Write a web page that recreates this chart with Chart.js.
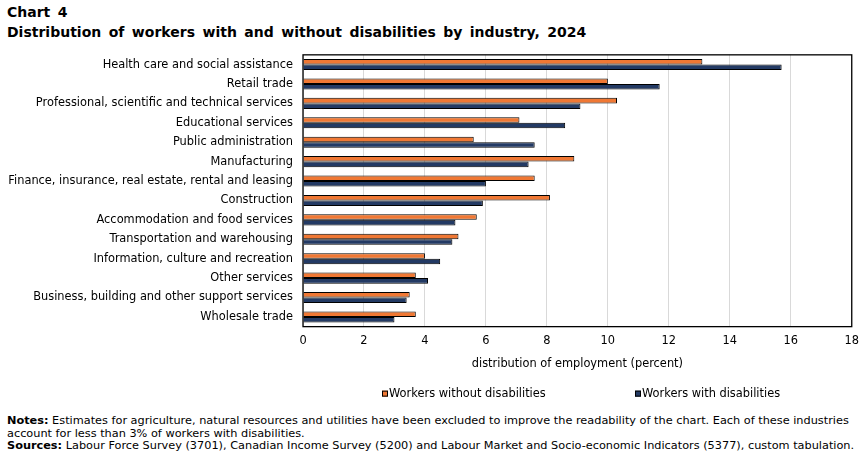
<!DOCTYPE html>
<html>
<head>
<meta charset="utf-8">
<script src="https://cdn.jsdelivr.net/npm/chart.js@4.4.1/dist/chart.umd.min.js"></script>
<style>
  body { margin: 0; background: #fff; font-family: "DejaVu Sans", Verdana, sans-serif; color: #000; }
  #page { position: relative; width: 867px; height: 455px; overflow: hidden; }
  #title { position: absolute; left: 7px; top: 2px; font-weight: bold; font-size: 14px; line-height: 20px; word-spacing: 2.6px; }
  #wrap { position: absolute; left: 0; top: 38px; width: 867px; height: 372px; }
  #notes { position: absolute; left: 7px; top: 415px; width: 858px; font-size: 11.3px; line-height: 12.6px; }
</style>
</head>
<body>
<div id="page">
  <div id="title">Chart 4<br>Distribution of workers with and without disabilities by industry, 2024</div>
  <div id="wrap"><canvas id="chart"></canvas></div>
  <div id="notes">
    <b>Notes:</b> Estimates for agriculture, natural resources and utilities have been excluded to improve the readability of the chart. Each of these industries account for less than 3% of workers with disabilities.<br>
    <b>Sources:</b> Labour Force Survey (3701), Canadian Income Survey (5200) and Labour Market and Socio-economic Indicators (5377), custom tabulation.
  </div>
</div>
<script>
// Industries, from top to bottom
const industries = [
    'Health care and social assistance',
    'Retail trade',
    'Professional, scientific and technical services',
    'Educational services',
    'Public administration',
    'Manufacturing',
    'Finance, insurance, real estate, rental and leasing',
    'Construction',
    'Accommodation and food services',
    'Transportation and warehousing',
    'Information, culture and recreation',
    'Other services',
    'Business, building and other support services',
    'Wholesale trade'
];

// Share of employment (percent)
const withoutDisabilities = [13.1, 10.0, 10.3, 7.1, 5.6, 8.9, 7.6, 8.1, 5.7, 5.1, 4.0, 3.7, 3.5, 3.7];
const withDisabilities = [15.7, 11.7, 9.1, 8.6, 7.6, 7.4, 6.0, 5.9, 5.0, 4.9, 4.5, 4.1, 3.4, 3.0];

const xTicks = [0, 2, 4, 6, 8, 10, 12, 14, 16, 18];

const FONT = '"DejaVu Sans", Verdana, sans-serif';
const SIZE = 11.4;

// black frame around the plot area
const frame = {
    id: 'frame',
    afterDatasetsDraw(chart) {
        const a = chart.chartArea;
        const c = chart.ctx;
        c.save();
        c.strokeStyle = '#000';
        c.lineWidth = 1.3;
        c.strokeRect(a.left, a.top, a.right - a.left, a.bottom - a.top);
        c.restore();
    }
};

// legend row under the axis title, items spread wide like the original
const wideLegend = {
    id: 'wideLegend',
    afterDraw(chart) {
        const c = chart.ctx;
        const a = chart.chartArea;
        const y = a.bottom + 67;
        const starts = [a.left + 79, a.left + 332];
        c.save();
        c.font = SIZE + 'px ' + FONT;
        c.textBaseline = 'middle';
        chart.data.datasets.forEach((ds, i) => {
            const x = starts[i];
            c.fillStyle = ds.backgroundColor;
            c.fillRect(x, y - 3, 6, 6);
            c.strokeStyle = '#000';
            c.lineWidth = 1;
            c.strokeRect(x + 0.5, y - 2.5, 5, 5);
            c.fillStyle = '#000';
            c.fillText(ds.label, x + 7, y);
        });
        c.restore();
    }
};

new Chart(document.getElementById('chart'), {
    type: 'bar',
    data: {
        labels: industries,
        datasets: [
            {
                label: 'Workers without disabilities',
                data: withoutDisabilities,
                backgroundColor: '#F07834',
                borderColor: '#000',
                borderWidth: 1
            },
            {
                label: 'Workers with disabilities',
                data: withDisabilities,
                backgroundColor: '#233A64',
                borderColor: '#000',
                borderWidth: 1
            }
        ]
    },
    options: {
        indexAxis: 'y',
        responsive: true,
        maintainAspectRatio: false,
        animation: false,
        categoryPercentage: 0.57,
        barPercentage: 1.0,
        layout: { padding: { left: 8, right: 10, top: 3, bottom: 39 } },
        scales: {
            x: {
                min: 0,
                max: 18,
                afterBuildTicks(axis) { axis.ticks = xTicks.map(v => ({ value: v })); },
                grid: { color: '#d9d9d9', lineWidth: 1, drawTicks: false },
                border: { display: false },
                ticks: { color: '#000', font: { family: FONT, size: SIZE }, padding: 8 },
                title: {
                    display: true,
                    text: 'distribution of employment (percent)',
                    color: '#000',
                    font: { family: FONT, size: SIZE },
                    padding: { top: 1, bottom: 0 }
                }
            },
            y: {
                afterFit(axis) { axis.width = 295; },
                grid: { display: false, drawTicks: false },
                border: { display: false },
                ticks: { color: '#000', font: { family: FONT, size: SIZE }, padding: 10, autoSkip: false }
            }
        },
        plugins: {
            legend: { display: false },
            tooltip: { enabled: false }
        }
    },
    plugins: [frame, wideLegend]
});
</script>
</body>
</html>
